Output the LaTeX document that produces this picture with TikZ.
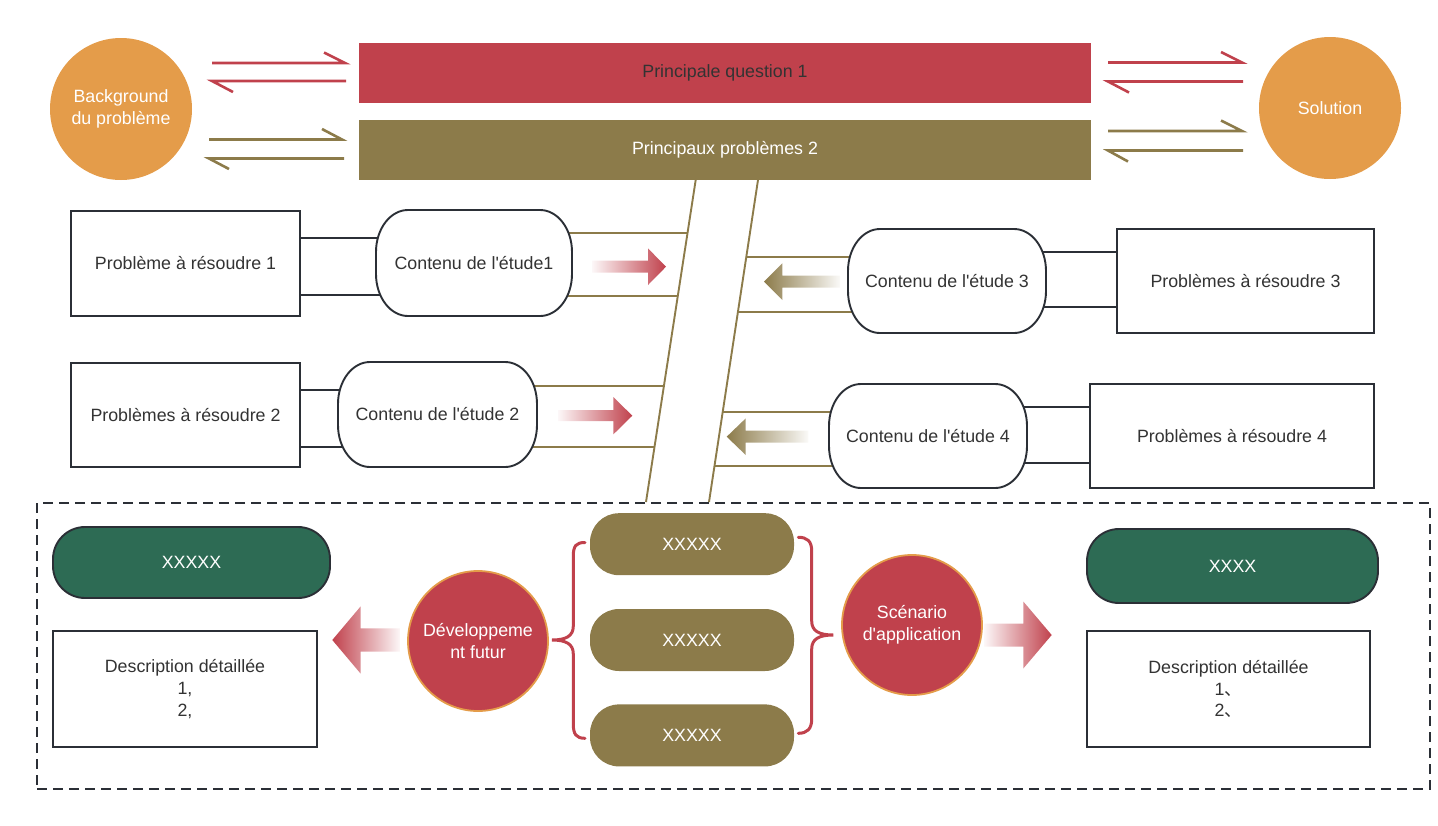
\documentclass[tikz,border=0pt]{standalone}
\usepackage{fontspec}
\setmainfont{Liberation Sans}
\newfontfamily\cjk{Noto Sans CJK SC}
\usetikzlibrary{calc,backgrounds}
\definecolor{cOrange}{HTML}{E49C4A}
\definecolor{cRed}{HTML}{C0414C}
\definecolor{cOlive}{HTML}{8C7B4A}
\definecolor{cGreen}{HTML}{2D6B54}
\definecolor{cDark}{HTML}{2B2F36}
\definecolor{cText}{HTML}{333333}
\newcommand{\studyshape}[4]{%
  \draw[dkline, fill=white] ({#1+32},#2) -- ({#3-32},#2)
    arc[start angle=-90,end angle=0,x radius=32,y radius=42] -- (#3,{#4-42})
    arc[start angle=0,end angle=90,x radius=32,y radius=42] -- ({#1+32},#4)
    arc[start angle=90,end angle=180,x radius=32,y radius=42] -- (#1,{#2+42})
    arc[start angle=180,end angle=270,x radius=32,y radius=42] -- cycle;}
\newcommand{\sq}{\textquotesingle}
\begin{document}
\begin{tikzpicture}[x=1pt,y=-1pt,
  font=\fontsize{17.8}{21.6}\selectfont,
  txt/.style={text=cText, align=center, inner sep=0pt},
  wtxt/.style={text=white, align=center, inner sep=0pt},
  dkline/.style={draw=cDark, line width=1.9pt},
  olln/.style={draw=cOlive, line width=1.9pt},
  harpR/.style={draw=cRed, line width=2.6pt, line join=miter},
  harpO/.style={draw=cOlive, line width=2.6pt, line join=miter},
  bar/.style={rectangle, draw=none, inner sep=0pt, minimum width=732pt, minimum height=60pt},
  bigcirc/.style={circle, draw=none, fill=cOrange, text=white, align=center, inner sep=0pt, minimum size=142pt},
  redcirc/.style={circle, draw=cOrange, line width=1.8pt, fill=cRed, text=white, align=center, inner sep=0pt, minimum size=140pt},
  probbox/.style={rectangle, dkline, fill=white, txt},
  pill/.style={rectangle, rounded corners=29pt, fill=cOlive, draw=none, wtxt, minimum width=204pt, minimum height=62pt},
  greenpill/.style={rectangle, rounded corners=32pt, fill=cGreen, dkline, wtxt},
  brace/.style={draw=cRed, line width=3pt, line cap=round},
  fadeR/.style={left color=cRed!4, right color=cRed},
  fadeL/.style={left color=cRed, right color=cRed!4},
  fadeO/.style={left color=cOlive, right color=cOlive!4},
]
\useasboundingbox (0,0) rectangle (1438,825);

% top bars and circles
\node[bar, fill=cRed, txt] (q1) at (725,73) {Principale question 1};
\node[bar, fill=cOlive, wtxt] (p2) at (725,150) {Principaux problèmes 2};
\node[bigcirc] (bg) at (121,109) {Background\\du problème};
\node[bigcirc] (sol) at (1330,108) {Solution};

% harpoon arrows
\draw[harpR] (212,63) -- (345,63) -- (324,52.5);
\draw[harpR] (233,92) -- (212,81) -- (346,81);
\draw[harpO] (209,139.5) -- (342,139.5) -- (322,129);
\draw[harpO] (229,169) -- (209,158.5) -- (344,158.5);
\draw[harpR] (1108,62.5) -- (1242,62.5) -- (1221,52);
\draw[harpR] (1129,92.5) -- (1108,81.5) -- (1243,81.5);
\draw[harpO] (1108,131) -- (1242,131) -- (1221,120.5);
\draw[harpO] (1128,161.5) -- (1108,150.5) -- (1243,150.5);

% slanted spine
\coordinate (LT) at (695.7,180);
\coordinate (LB) at (646,502);
\coordinate (RT) at (758,180);
\coordinate (RB) at (709,502);
\draw[olln] (LT) -- (LB);
\draw[olln] (RT) -- (RB);

% problem boxes
\node[probbox, minimum width=229pt, minimum height=105pt] (b1) at (185.5,263.5) {Problème à résoudre 1};
\node[probbox, minimum width=229pt, minimum height=104pt] (b2) at (185.5,415) {Problèmes à résoudre 2};
\node[probbox, minimum width=257pt, minimum height=104pt] (b3) at (1245.5,281) {Problèmes à résoudre 3};
\node[probbox, minimum width=284pt, minimum height=104pt] (b4) at (1232,436) {Problèmes à résoudre 4};

% study content shapes
\studyshape{376}{210}{572}{316}
\node[txt] (c1) at (474,263) {Contenu de l\sq étude1};
\studyshape{338}{362}{537}{467}
\node[txt] (c2) at (437.5,414.5) {Contenu de l\sq étude 2};
\studyshape{848}{229}{1046}{333}
\node[txt] (c3) at (947,281) {Contenu de l\sq étude 3};
\studyshape{829}{384}{1027}{488}
\node[txt] (c4) at (928,436) {Contenu de l\sq étude 4};

\coordinate (u1) at ($(LT)!0.1655!(LB)$);
\coordinate (l1) at ($(LT)!0.3593!(LB)$);
\coordinate (u2) at ($(LT)!0.6398!(LB)$);
\coordinate (l2) at ($(LT)!0.8283!(LB)$);
\coordinate (u3) at ($(RT)!0.2401!(RB)$);
\coordinate (l3) at ($(RT)!0.4090!(RB)$);
\coordinate (u4) at ($(RT)!0.7214!(RB)$);
\coordinate (l4) at ($(RT)!0.8882!(RB)$);

\begin{pgfonlayer}{background}
  \draw[olln] (c1.center |- u1) -- (u1);
  \draw[olln] (c1.center |- l1) -- (l1);
  \draw[olln] (c2.center |- u2) -- (u2);
  \draw[olln] (c2.center |- l2) -- (l2);
  \draw[olln] (u3) -- (c3.center |- u3);
  \draw[olln] (l3) -- (c3.center |- l3);
  \draw[olln] (u4) -- (c4.center |- u4);
  \draw[olln] (l4) -- (c4.center |- l4);
  \draw[dkline] ([yshift=25.5pt]b1.east) -- ([yshift=25.5pt]b1.east -| c1.center);
  \draw[dkline] ([yshift=-31.5pt]b1.east) -- ([yshift=-31.5pt]b1.east -| c1.center);
  \draw[dkline] ([yshift=25pt]b2.east) -- ([yshift=25pt]b2.east -| c2.center);
  \draw[dkline] ([yshift=-32pt]b2.east) -- ([yshift=-32pt]b2.east -| c2.center);
  \draw[dkline] ([yshift=29pt]b3.west) -- ([yshift=29pt]b3.west -| c3.center);
  \draw[dkline] ([yshift=-26pt]b3.west) -- ([yshift=-26pt]b3.west -| c3.center);
  \draw[dkline] ([yshift=29pt]b4.west) -- ([yshift=29pt]b4.west -| c4.center);
  \draw[dkline] ([yshift=-27pt]b4.west) -- ([yshift=-27pt]b4.west -| c4.center);
\end{pgfonlayer}

% gradient block arrows (middle)
\shade[fadeR] (592,260.7) -- (648,260.7) -- (648,248.4) -- (666,266.7) -- (648,285) -- (648,272.7) -- (592,272.7) -- cycle;
\shade[fadeR] (558,410.2) -- (613.3,410.2) -- (613.3,397) -- (632.3,415.7) -- (613.3,434.4) -- (613.3,421.2) -- (558,421.2) -- cycle;
\shade[fadeO] (764,281.7) -- (782.3,263.4) -- (782.3,275.7) -- (840,275.7) -- (840,287.7) -- (782.3,287.7) -- (782.3,300) -- cycle;
\shade[fadeO] (726.7,436.7) -- (745.7,418.4) -- (745.7,430.7) -- (808.3,430.7) -- (808.3,442.7) -- (745.7,442.7) -- (745.7,455) -- cycle;

% bottom frame
\node[draw=cDark, line width=1.8pt, dash pattern=on 10pt off 6pt, minimum width=1393pt, minimum height=286pt, inner sep=0pt] (frame) at (733.5,646) {};

% bottom left
\node[greenpill, minimum width=277pt, minimum height=71pt] (g1) at (191.5,562.5) {XXXXX};
\node[probbox, minimum width=264pt, minimum height=116pt] (d1) at (185,689) {Description détaillée\\1,\\2,};
\node[redcirc] (dev) at (478,641) {Développeme\\nt futur};
\shade[fadeL] (332.3,640) -- (360.7,606.3) -- (360.7,628.3) -- (400,628.3) -- (400,651.7) -- (360.7,651.7) -- (360.7,673.7) -- cycle;

% centre pills
\node[pill] (x1) at (692,544.2) {XXXXX};
\node[pill] (x2) at (692,640) {XXXXX};
\node[pill] (x3) at (692,735.4) {XXXXX};

% braces
\draw[brace] (585,542.5) .. controls (576,542.5) and (573.3,546) .. (573.3,556) -- (573.3,626)
  .. controls (573.3,636) and (566,640) .. (552,640)
  .. controls (566,640) and (573.3,644) .. (573.3,654) -- (573.3,724)
  .. controls (573.3,734) and (576,738.3) .. (585,738.3);
\draw[brace] (798.3,537.3) .. controls (807,537.3) and (811.7,541) .. (811.7,551) -- (811.7,621)
  .. controls (811.7,631) and (819,635) .. (833.3,635)
  .. controls (819,635) and (811.7,639) .. (811.7,649) -- (811.7,719)
  .. controls (811.7,729) and (807,733.3) .. (798.3,733.3);

% bottom right
\node[redcirc] (scen) at (912,625) {Scénario\\d\sq application};
\shade[fadeR] (984,623.5) -- (1023.3,623.5) -- (1023.3,601.5) -- (1051.7,635) -- (1023.3,668.5) -- (1023.3,646.5) -- (984,646.5) -- cycle;
\node[greenpill, minimum width=291pt, minimum height=74pt] (g2) at (1232.5,566) {XXXX};
\node[probbox, minimum width=283pt, minimum height=116pt] (d2) at (1228.5,689) {Description détaillée\\1{\cjk 、}\\2{\cjk 、}};
\end{tikzpicture}
\end{document}
